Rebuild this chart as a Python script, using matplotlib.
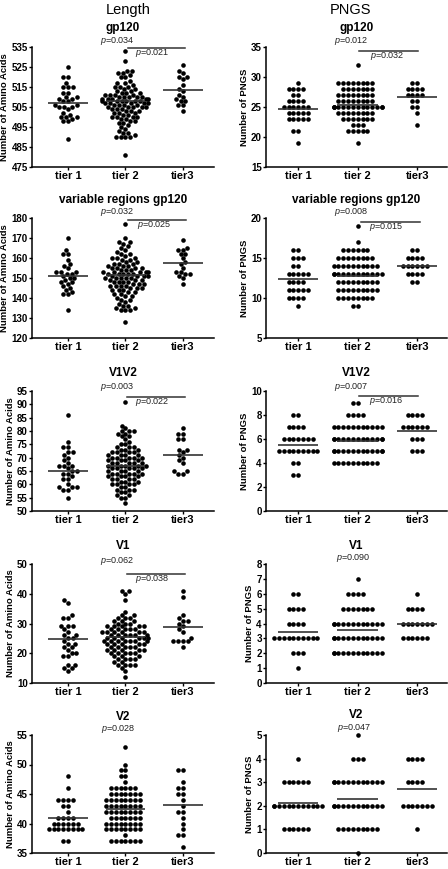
import warnings

import numpy as np
import pandas as pd
import matplotlib
matplotlib.use('Agg')
import matplotlib.pyplot as plt
import seaborn as sns

warnings.filterwarnings('ignore')

plt.rcParams['font.family'] = ['Liberation Sans', 'DejaVu Sans']
plt.rcParams['mathtext.fontset'] = 'custom'
plt.rcParams['mathtext.it'] = 'Liberation Sans:italic'
plt.rcParams['mathtext.rm'] = 'Liberation Sans'

tiers = ['tier 1', 'tier 2', 'tier3']

# ---- Length (number of amino acids) ----
len_gp120_t1 = [525, 520, 520, 517, 515, 515, 515, 509, 512, 512, 510, 510, 506, 504, 509,
                508, 508, 506, 505, 505, 505, 502, 501, 500, 500, 500, 499, 498, 498, 489]
len_gp120_t2 = [533, 528, 523, 523, 522, 522, 521, 520, 520, 518, 517, 517, 516, 515, 515,
                515, 514, 514, 513, 513, 512, 512, 512, 511, 511, 511, 510, 510, 510, 510,
                509, 509, 509, 509, 508, 508, 508, 508, 508, 507, 507, 507, 507, 506, 506,
                506, 505, 505, 505, 505, 504, 504, 503, 503, 503, 502, 502, 502, 501, 501,
                500, 500, 500, 499, 499, 498, 498, 497, 496, 495, 494, 493, 492, 492, 491,
                490, 490, 490, 490, 481, 511, 509, 507, 506, 505, 504, 500, 497, 510, 508]
len_gp120_t3 = [526, 523, 522, 520, 520, 519, 516, 514, 513, 511, 510, 509, 508, 508, 506,
                506, 503]
len_gp120_mean = [507.0, 507.8, 513.7]

len_var_t1 = [170, 164, 162, 162, 159, 157, 156, 155, 153, 153, 153, 152, 152, 151, 150,
              150, 149, 148, 148, 147, 146, 145, 144, 143, 142, 142, 134]
len_var_t2 = [177, 170, 168, 168, 167, 166, 165, 164, 163, 162, 162, 161, 160, 160, 159,
              159, 158, 158, 157, 157, 156, 156, 156, 155, 155, 155, 154, 154, 154, 153,
              153, 153, 153, 152, 152, 152, 152, 151, 151, 151, 151, 150, 150, 150, 150,
              149, 149, 149, 148, 148, 148, 147, 147, 147, 146, 146, 146, 145, 145, 145,
              144, 144, 143, 143, 142, 142, 141, 140, 139, 139, 138, 137, 136, 136, 135,
              135, 134, 134, 134, 128, 155, 153, 152, 150, 148, 146, 157, 160, 144, 141]
len_var_t3 = [169, 165, 164, 164, 162, 162, 160, 158, 157, 155, 153, 153, 152, 152, 151,
              150, 147]
len_var_mean = [150.8, 151.7, 157.3]

len_v1v2_t1 = [86, 76, 74, 74, 72, 72, 71, 70, 69, 68, 67, 67, 67, 66, 65, 65, 64, 64, 63,
               62, 62, 60, 59, 59, 59, 58, 58, 55]
len_v1v2_t2 = [91, 82, 81, 80, 80, 80, 79, 79, 78, 78, 77, 76, 75, 75, 74, 74, 74, 73, 73,
               73, 72, 72, 72, 71, 71, 71, 70, 70, 70, 70, 69, 69, 69, 68, 68, 68, 68, 67,
               67, 67, 67, 66, 66, 66, 66, 65, 65, 65, 64, 64, 64, 64, 63, 63, 63, 62, 62,
               62, 61, 61, 61, 60, 60, 60, 59, 59, 58, 58, 58, 57, 57, 56, 56, 55, 55, 53,
               70, 68, 66, 65, 63, 62, 60, 67, 72, 69, 64, 71]
len_v1v2_t3 = [81, 79, 79, 77, 77, 73, 73, 72, 71, 70, 69, 68, 65, 65, 64, 64]
len_v1v2_mean = [65.0, 67.0, 71.0]

len_v1_t1 = [38, 37, 33, 32, 32, 29, 29, 29, 28, 27, 26, 26, 25, 25, 24, 23, 23, 22, 22,
             21, 20, 20, 19, 19, 16, 16, 15, 15, 14]
len_v1_t2 = [41, 41, 40, 38, 34, 33, 33, 32, 32, 32, 31, 31, 31, 30, 30, 30, 29, 29, 29,
             29, 28, 28, 28, 28, 27, 27, 27, 27, 27, 26, 26, 26, 26, 26, 25, 25, 25, 25,
             25, 24, 24, 24, 24, 24, 23, 23, 23, 23, 22, 22, 22, 22, 21, 21, 21, 21, 20,
             20, 20, 20, 19, 19, 19, 18, 18, 18, 17, 17, 16, 16, 16, 16, 15, 14, 12,
             27, 25, 24, 23, 22, 20, 29, 26, 21, 18, 24, 28]
len_v1_t3 = [41, 39, 33, 32, 31, 31, 30, 29, 28, 27, 25, 24, 24, 24, 24, 22]
len_v1_mean = [24.7, 25.3, 28.8]

len_v2_t1 = [48, 46, 44, 44, 44, 44, 43, 43, 42, 41, 41, 41, 41, 40, 40, 40, 40, 40, 40,
             39, 39, 39, 39, 39, 39, 39, 39, 37, 37]
len_v2_t2 = [53, 50, 49, 49, 48, 48, 47, 46, 46, 46, 46, 46, 46, 45, 45, 45, 45, 45, 45,
             45, 44, 44, 44, 44, 44, 44, 44, 44, 43, 43, 43, 43, 43, 43, 43, 43, 42, 42,
             42, 42, 42, 42, 42, 42, 41, 41, 41, 41, 41, 41, 41, 40, 40, 40, 40, 40, 40,
             40, 40, 39, 39, 39, 39, 39, 39, 39, 39, 38, 37, 37, 37, 37, 37, 37, 37]
len_v2_t3 = [49, 49, 47, 46, 46, 45, 45, 44, 43, 42, 42, 41, 40, 39, 38, 38, 36]
len_v2_mean = [41.0, 42.4, 43.1]

# ---- PNGS ----
pngs_gp120_t1 = [29, 28, 28, 28, 28, 27, 27, 26, 26, 26, 26, 25, 25, 25, 25, 25, 25, 24,
                 24, 24, 24, 24, 23, 23, 23, 23, 23, 21, 21, 19]
pngs_gp120_t2 = [32, 29, 29, 29, 29, 29, 29, 29, 29, 28, 28, 28, 28, 28, 28, 28, 27, 27,
                 27, 27, 27, 27, 27, 27, 26, 26, 26, 26, 26, 26, 26, 26, 25, 25, 25, 25,
                 25, 25, 25, 25, 25, 25, 25, 25, 25, 25, 24, 24, 24, 24, 24, 24, 24, 24,
                 23, 23, 23, 23, 23, 23, 23, 22, 22, 22, 21, 21, 21, 21, 21, 19]
pngs_gp120_t3 = [29, 29, 28, 28, 28, 28, 27, 27, 27, 27, 26, 26, 25, 25, 24, 22]
pngs_gp120_mean = [24.75, 25.4, 26.65]

pngs_var_t1 = [16, 16, 15, 15, 15, 14, 14, 13, 13, 13, 13, 13, 12, 12, 12, 12, 11, 11, 11,
               11, 11, 10, 10, 10, 10, 9]
pngs_var_t2 = [19, 17, 16, 16, 16, 16, 16, 16, 15, 15, 15, 15, 15, 15, 15, 15, 14, 14, 14,
               14, 14, 14, 14, 14, 14, 14, 13, 13, 13, 13, 13, 13, 13, 13, 13, 13, 13, 13,
               12, 12, 12, 12, 12, 12, 12, 12, 12, 11, 11, 11, 11, 11, 11, 11, 11, 11, 10,
               10, 10, 10, 10, 10, 10, 10, 9, 9]
pngs_var_t3 = [16, 16, 15, 15, 15, 15, 14, 14, 14, 14, 14, 14, 13, 13, 13, 13, 12, 12]
pngs_var_mean = [12.33, 12.8, 13.96]

pngs_v1v2_t1 = [8, 8, 7, 7, 7, 7, 6, 6, 6, 6, 6, 6, 6, 5, 5, 5, 5, 5, 5, 5, 5, 5, 4, 4, 3, 3]
pngs_v1v2_t2 = [9, 9, 8, 8, 8, 8, 7, 7, 7, 7, 7, 7, 7, 7, 7, 7, 7, 6, 6, 6, 6, 6, 6, 6, 6,
                6, 6, 6, 6, 6, 5, 5, 5, 5, 5, 5, 5, 5, 5, 5, 5, 5, 5, 4, 4, 4, 4, 4, 4, 4,
                4, 4, 4]
pngs_v1v2_t3 = [8, 8, 8, 8, 7, 7, 7, 7, 7, 7, 6, 6, 6, 5, 5, 5]
pngs_v1v2_mean = [5.53, 5.8, 6.64]

pngs_v1_t1 = [6, 6, 5, 5, 5, 5, 4, 4, 4, 4, 3, 3, 3, 3, 3, 3, 3, 3, 3, 3, 2, 2, 2, 1]
pngs_v1_t2 = [7, 6, 6, 6, 6, 5, 5, 5, 5, 5, 5, 5, 4, 4, 4, 4, 4, 4, 4, 4, 4, 4, 4, 4, 3,
              3, 3, 3, 3, 3, 3, 3, 3, 3, 3, 3, 2, 2, 2, 2, 2, 2, 2, 2, 2, 2, 2, 2]
pngs_v1_t3 = [6, 5, 5, 5, 5, 4, 4, 4, 4, 4, 4, 4, 3, 3, 3, 3, 3, 3]
pngs_v1_mean = [3.42, 3.58, 4.0]

pngs_v2_t1 = [4, 3, 3, 3, 3, 3, 3, 2, 2, 2, 2, 2, 2, 2, 2, 2, 2, 2, 2, 1, 1, 1, 1, 1, 1]
pngs_v2_t2 = [5, 4, 4, 4, 3, 3, 3, 3, 3, 3, 3, 3, 3, 3, 3, 3, 2, 2, 2, 2, 2, 2, 2, 2, 2,
              2, 2, 2, 1, 1, 1, 1, 1, 1, 1, 1, 1, 0]
pngs_v2_t3 = [4, 4, 4, 4, 3, 3, 3, 3, 2, 2, 2, 2, 2, 2, 2, 1]
pngs_v2_mean = [2.12, 2.30, 2.70]

W, H = 448, 869
fig = plt.figure(figsize=(W / 100, H / 100), dpi=100)

rows_px = [(47, 167), (218, 338), (391, 511), (564, 683), (735, 853)]


def make_ax(col, row):
    top, bot = rows_px[row]
    if col == 0:
        x0, x1 = 32, 214
    else:
        x0, x1 = 266, 447
    return fig.add_axes([x0 / W, 1 - bot / H, (x1 - x0) / W, (bot - top) / H])


def panel(ax, t1, t2, t3, means, title, ticks, ylabel, xlim, tpad=11):
    df = pd.DataFrame({'tier': [tiers[0]] * len(t1) + [tiers[1]] * len(t2) + [tiers[2]] * len(t3),
                       'value': list(t1) + list(t2) + list(t3)})
    ax.set_ylim(ticks[0], ticks[-1])
    sns.swarmplot(data=df, x='tier', y='value', order=tiers, color='black', size=3.3,
                  linewidth=0, ax=ax)
    for c in ax.collections:
        c.set_clip_on(False)
    pos = np.arange(3)
    ax.hlines(means, pos - 0.34, pos + 0.34, color='#333333', lw=1.2, zorder=5)
    ax.set_xlim(*xlim)
    ax.set_ylim(ticks[0], ticks[-1])
    ax.set_yticks(ticks)
    ax.set_xticks(pos)
    ax.set_xticklabels(tiers, fontsize=8, fontweight='bold')
    for lab in ax.get_yticklabels():
        lab.set_fontsize(7)
        lab.set_fontweight('bold')
    ax.set_xlabel('')
    ax.set_ylabel(ylabel, fontsize=6.8, fontweight='bold', labelpad=1.5)
    ax.set_title(title, fontsize=8.5, fontweight='bold', pad=tpad)
    for s in ['top', 'right']:
        ax.spines[s].set_visible(False)
    for s in ['left', 'bottom']:
        ax.spines[s].set_linewidth(1.1)
    ax.tick_params(axis='both', direction='out', length=2.2, width=1, pad=0.8)


def pval(ax, text, x, dy=4.5):
    ax.annotate(r'$\it{p}$=' + text, xy=(x, 1), xycoords=('data', 'axes fraction'),
                xytext=(0, dy), textcoords='offset points', ha='center', va='center',
                fontsize=6.5, color='#222222')


def bracket(ax, text, x0, x1, y, xt):
    ax.plot([x0, x1], [y, y], color='#333333', lw=1.1, clip_on=False,
            transform=ax.get_xaxis_transform())
    ax.annotate(r'$\it{p}$=' + text, xy=(xt, y), xycoords=('data', 'axes fraction'),
                xytext=(0, -3.6), textcoords='offset points', ha='center', va='center',
                fontsize=6.5, color='#222222')


lx = (-0.626, 2.54)
rx = (-0.54, 2.50)
aa = 'Number of Amino Acids'
np_ = 'Number of PNGS'

ax = make_ax(0, 0)
panel(ax, len_gp120_t1, len_gp120_t2, len_gp120_t3, len_gp120_mean, 'gp120',
      np.arange(475, 536, 10), aa, lx, 11.5)
pval(ax, '0.034', 0.86, 4.5)
bracket(ax, '0.021', 1.04, 2.04, 0.99, 1.46)

ax = make_ax(1, 0)
panel(ax, pngs_gp120_t1, pngs_gp120_t2, pngs_gp120_t3, pngs_gp120_mean, 'gp120',
      np.arange(15, 36, 5), np_, rx, 11.5)
pval(ax, '0.012', 0.9, 4.5)
bracket(ax, '0.032', 1.03, 2.02, 0.966, 1.5)

ax = make_ax(0, 1)
panel(ax, len_var_t1, len_var_t2, len_var_t3, len_var_mean, 'variable regions gp120',
      np.arange(120, 181, 10), aa, lx)
pval(ax, '0.032', 0.86, 4.5)
bracket(ax, '0.025', 1.04, 2.05, 0.98, 1.5)

ax = make_ax(1, 1)
panel(ax, pngs_var_t1, pngs_var_t2, pngs_var_t3, pngs_var_mean, 'variable regions gp120',
      np.arange(5, 21, 5), np_, rx)
pval(ax, '0.008', 0.9, 4.5)
bracket(ax, '0.015', 1.06, 2.05, 0.97, 1.48)

ax = make_ax(0, 2)
panel(ax, len_v1v2_t1, len_v1v2_t2, len_v1v2_t3, len_v1v2_mean, 'V1V2',
      np.arange(50, 96, 5), aa, lx)
pval(ax, '0.003', 0.86, 3)
bracket(ax, '0.022', 1.02, 2.03, 0.953, 1.46)

ax = make_ax(1, 2)
panel(ax, pngs_v1v2_t1, pngs_v1v2_t2, pngs_v1v2_t3, pngs_v1v2_mean, 'V1V2',
      np.arange(0, 11, 2), np_, rx)
pval(ax, '0.007', 0.9, 3)
bracket(ax, '0.016', 1.03, 2.02, 0.955, 1.48)

ax = make_ax(0, 3)
panel(ax, len_v1_t1, len_v1_t2, len_v1_t3, len_v1_mean, 'V1',
      np.arange(10, 51, 10), aa, lx)
pval(ax, '0.062', 0.86, 2.5)
bracket(ax, '0.038', 1.02, 2.03, 0.913, 1.46)

ax = make_ax(1, 3)
panel(ax, pngs_v1_t1, pngs_v1_t2, pngs_v1_t3, pngs_v1_mean, 'V1',
      np.arange(0, 9, 1), np_, rx)
pval(ax, '0.090', 0.92, 4.5)

ax = make_ax(0, 4)
panel(ax, len_v2_t1, len_v2_t2, len_v2_t3, len_v2_mean, 'V2',
      np.arange(35, 56, 5), aa, lx)
pval(ax, '0.028', 0.88, 4.5)

ax = make_ax(1, 4)
panel(ax, pngs_v2_t1, pngs_v2_t2, pngs_v2_t3, pngs_v2_mean, 'V2',
      np.arange(0, 6, 1), np_, rx, 12)
pval(ax, '0.047', 0.94, 4.8)

fig.text(128 / W, 1 - 10 / H, 'Length', ha='center', va='center', fontsize=10.5)
fig.text(350 / W, 1 - 10 / H, 'PNGS', ha='center', va='center', fontsize=10.5)

fig.savefig('out.png', dpi=100)
